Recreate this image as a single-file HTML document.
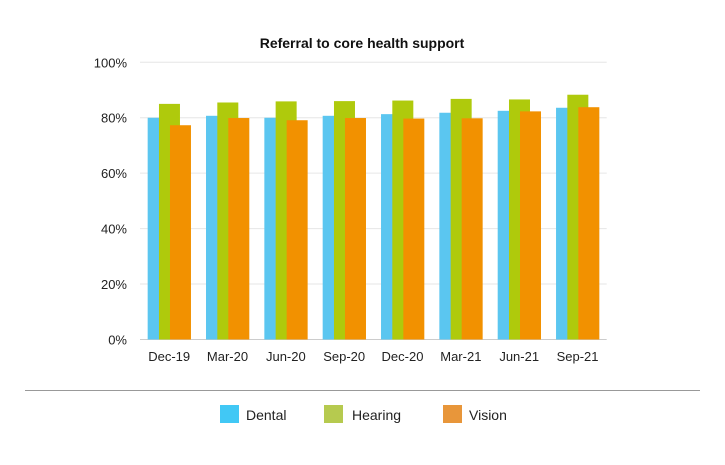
<!DOCTYPE html>
<html><head><meta charset="utf-8"><style>
body{margin:0;background:#fff;font-family:"Liberation Sans",sans-serif;}
svg{display:block}
</style></head><body>
<svg width="725" height="465">
<text x="362" y="48" text-anchor="middle" font-size="14" font-weight="bold" fill="#111">Referral to core health support</text>
<g id="grid"></g>
<g id="bars"></g>
<g id="xlabels"></g>
<line x1="25" y1="390.5" x2="700" y2="390.5" stroke="#999" stroke-width="1"/>
<g>
<g><rect x="220" y="405" width="19" height="18" fill="#41c8f5"/><text x="246" y="420" font-size="14" fill="#222">Dental</text></g>
<g><rect x="324" y="405" width="19" height="18" fill="#b6ca4f"/><text x="352" y="420" font-size="14" fill="#222">Hearing</text></g>
<g><rect x="443" y="405" width="19" height="18" fill="#e8963a"/><text x="469" y="420" font-size="14" fill="#222">Vision</text></g>
</g>
</svg>
<script>
const categories=["Dec-19","Mar-20","Jun-20","Sep-20","Dec-20","Mar-21","Jun-21","Sep-21"];
const dental=[80.0,80.7,80.0,80.7,81.3,81.8,82.5,83.6];
const hearing=[85.0,85.5,85.9,86.0,86.2,86.8,86.6,88.3];
const vision=[77.3,79.9,79.1,79.9,79.7,79.8,82.3,83.8];
const yTicks=[0,20,40,60,80,100];
const NS="http://www.w3.org/2000/svg";
const x0=140,x1=606.7,y0=339.5,yTop=62.3;
const y=v=>y0-(v/100)*(y0-yTop);
const band=(x1-x0)/categories.length;
const xc=i=>x0+band*(i+0.5);
function mk(t,a,p){const e=document.createElementNS(NS,t);for(const k in a)e.setAttribute(k,a[k]);p.appendChild(e);return e;}
const grid=document.getElementById('grid');
yTicks.forEach(t=>{
  const l=mk('line',{x1:x0,x2:x1,y1:y(t),y2:y(t),stroke:t===0?'#ccc':'#e6e6e6','stroke-width':1},grid);
  
  
  const tx=mk('text',{x:127,y:y(t)+5,'text-anchor':'end','font-size':13,fill:'#222'},grid);
  tx.textContent=t+'%';
  
  
});
const bars=document.getElementById('bars');
const series=[[dental,'#5bc6f0','dental',-21.5],[hearing,'#afca0c','hearing',-10.2],[vision,'#f29100','vision',0.8]];
series.forEach(([vals,col,nm,off])=>{
  vals.forEach((v,i)=>{
    const r=mk('rect',{x:xc(i)+off,y:y(v),width:21,height:y0-y(v),fill:col},bars);
    
    
  });
});
const xl=document.getElementById('xlabels');
categories.forEach((c,i)=>{
  const t=mk('text',{x:xc(i),y:361,'text-anchor':'middle','font-size':13,fill:'#222'},xl);
  t.textContent=c;
  
  
});
</script>
</body></html>
